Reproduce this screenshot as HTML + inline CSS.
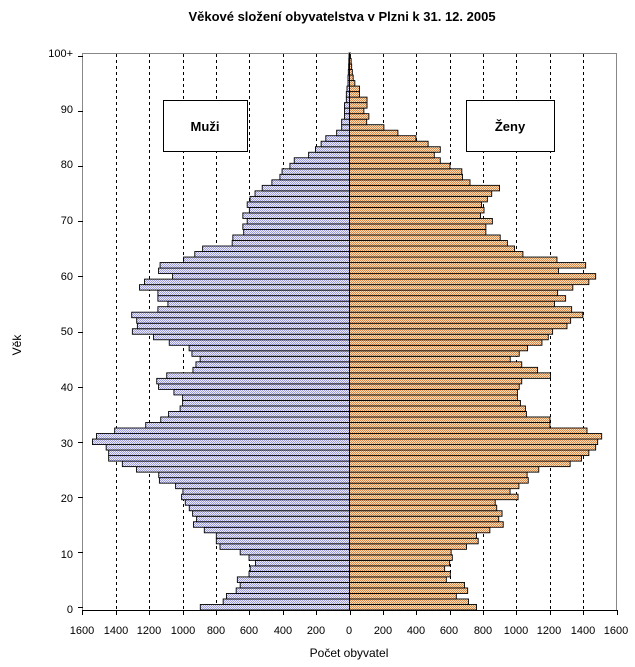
<!DOCTYPE html>
<html><head><meta charset="utf-8"><style>
body{margin:0;background:#fff;width:635px;height:667px;overflow:hidden}
svg{display:block;font-family:"Liberation Sans",Arial,sans-serif}
</style></head><body>
<svg id="s" width="635" height="667" viewBox="0 0 635 667" xmlns="http://www.w3.org/2000/svg">
<defs>
<pattern id="pm" width="2" height="2" patternUnits="userSpaceOnUse"><rect width="2" height="2" fill="#ececfa"/><rect width="1" height="1" fill="#9e9ee0"/><rect x="1" y="1" width="1" height="1" fill="#9e9ee0"/></pattern>
<pattern id="pf" width="2" height="2" patternUnits="userSpaceOnUse"><rect width="2" height="2" fill="#fbe0bc"/><rect width="1" height="1" fill="#e0884a"/><rect x="1" y="1" width="1" height="1" fill="#e0884a"/></pattern>
</defs>
<text x="342" y="21" font-size="13" font-weight="bold" text-anchor="middle">Věkové složení obyvatelstva v Plzni k 31. 12. 2005</text>
<g id="grid"></g>
<g id="bars"></g>
<line x1="82.5" y1="53" x2="82.5" y2="610" stroke="#888"/>
<line x1="616.5" y1="53" x2="616.5" y2="610" stroke="#888"/>
<line x1="82" y1="53.5" x2="617" y2="53.5" stroke="#888"/>
<line x1="82" y1="610.5" x2="617" y2="610.5" stroke="#000"/>
<line x1="349.5" y1="53" x2="349.5" y2="611" stroke="#000"/>
<g id="ticks"></g>
<g font-size="11" text-anchor="end">
<text x="73" y="57">100+</text><text x="73" y="113">90</text><text x="73" y="168">80</text><text x="73" y="224">70</text><text x="73" y="280">60</text><text x="73" y="335">50</text><text x="73" y="391">40</text><text x="73" y="447">30</text><text x="73" y="502">20</text><text x="73" y="558">10</text><text x="73" y="613">0</text>
</g>
<g font-size="11" text-anchor="middle">
<text x="82" y="634">1600</text><text x="116" y="634">1400</text><text x="149" y="634">1200</text><text x="183" y="634">1000</text><text x="216" y="634">800</text><text x="249" y="634">600</text><text x="283" y="634">400</text><text x="316" y="634">200</text><text x="349" y="634">0</text><text x="383" y="634">200</text><text x="416" y="634">400</text><text x="449" y="634">600</text><text x="483" y="634">800</text><text x="516" y="634">1000</text><text x="549" y="634">1200</text><text x="583" y="634">1400</text><text x="616" y="634">1600</text>
</g>
<text x="349" y="657" font-size="12" text-anchor="middle">Počet obyvatel</text>
<text transform="translate(21,345) rotate(-90)" font-size="12" text-anchor="middle">Věk</text>
<rect x="163.5" y="100.5" width="84" height="51" fill="#fff" stroke="#000"/>
<text x="205" y="131" font-size="13" font-weight="bold" text-anchor="middle">Muži</text>
<rect x="466.5" y="100.5" width="88" height="51" fill="#fff" stroke="#000"/>
<text x="510" y="131" font-size="13" font-weight="bold" text-anchor="middle">Ženy</text>
</svg>
<script>
var M=[894,757,737,679,655,672,602,595,563,602,655,776,798,798,870,935,916,940,960,984,1006,998,1042,1139,1143,1276,1361,1443,1443,1458,1540,1516,1407,1221,1131,1084,1015,1000,1000,1052,1144,1155,1095,938,920,895,944,961,1080,1174,1301,1271,1275,1305,1148,1088,1148,1148,1258,1228,1060,1144,1135,994,927,880,703,699,634,639,613,639,600,613,596,566,523,465,417,404,357,331,245,204,170,142,77,47,47,30,30,30,19,19,15,9,9,7,5,4,3];
var F=[761,713,640,708,689,580,604,570,600,616,609,701,771,761,841,921,894,914,882,873,1010,962,1015,1071,1064,1134,1210,1330,1400,1440,1480,1500,1510,1370,1201,1060,1054,1024,1006,1006,1017,1032,1204,1127,1032,963,1017,1067,1153,1191,1217,1303,1325,1398,1331,1228,1295,1247,1338,1434,1475,1252,1415,1243,1039,989,946,903,817,817,856,785,806,791,826,852,899,722,677,673,602,544,508,544,471,398,290,206,103,116,86,105,105,60,60,32,22,17,13,10,6];
F.splice(25,9,1134,1322,1390,1434,1475,1487,1511,1423,1201);
var ns="http://www.w3.org/2000/svg",b=document.getElementById('bars'),g=document.getElementById('grid'),t=document.getElementById('ticks');
var cx=349.5,k=0.1669,h=557/101;
function el(p,tag,a){var e=document.createElementNS(ns,tag);for(var i in a)e.setAttribute(i,a[i]);p.appendChild(e);return e;}
[-1400,-1200,-1000,-800,-600,-400,-200,200,400,600,800,1000,1200,1400].forEach(function(v){var x=Math.round(cx+v*k)+0.5;el(g,'line',{x1:x,y1:54,x2:x,y2:610,stroke:'#000','stroke-dasharray':'3,3'});});
for(var v=-1600;v<=1600;v+=200){var x=Math.round(cx+v*k)+0.5;el(t,'line',{x1:x,y1:610,x2:x,y2:615,stroke:'#000'});}
for(var a=0;a<=100;a+=10){var y=Math.round(610-a*h-h/2)+0.5;el(t,'line',{x1:78,y1:y,x2:83,y2:y,stroke:'#000'});}
for(var a=0;a<101;a++){var y=610-(a+1)*h;var m=M[a]||2,f=F[a]||2;
el(b,'rect',{x:cx-m*k,y:y,width:m*k,height:h,fill:'url(#pm)',stroke:'#000','stroke-width':0.9});
el(b,'rect',{x:cx,y:y,width:f*k,height:h,fill:'url(#pf)',stroke:'#000','stroke-width':0.9});}
</script>
</body></html>
